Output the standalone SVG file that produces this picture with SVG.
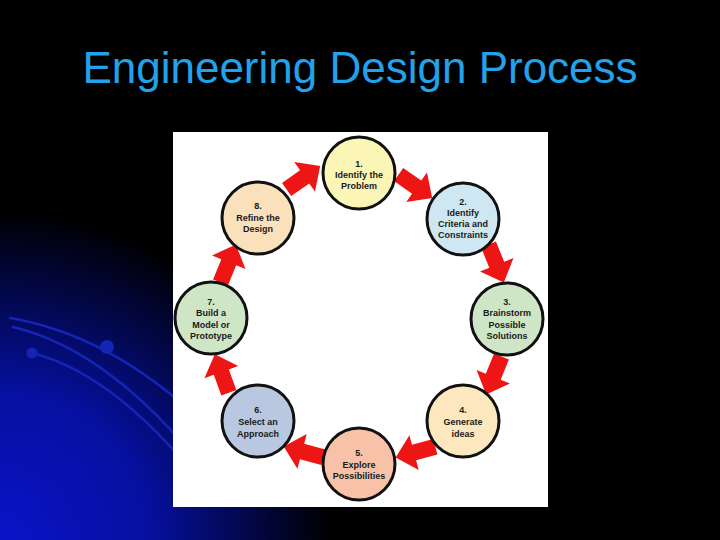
<svg xmlns="http://www.w3.org/2000/svg" width="720" height="540" viewBox="0 0 720 540">
<defs>
<radialGradient id="bg" cx="0" cy="540" r="330" gradientUnits="userSpaceOnUse">
<stop offset="0" stop-color="#0a14c8"/>
<stop offset="0.45" stop-color="#0610a0"/>
<stop offset="1" stop-color="#000000"/>
</radialGradient>
<path id="arr" d="M-20,-8 L2,-8 L2,-18 L21,0 L2,18 L2,8 L-20,8 Z"/>
<style>
.node circle{stroke:#111;stroke-width:3}
.node text{font-family:"Liberation Sans",Arial,sans-serif;font-weight:bold;font-size:9px;fill:#1a1a1a;text-anchor:middle}
.arrow{fill:#ee1515}
.deco{fill:none;stroke:#1424b4;stroke-width:2.5;stroke-linecap:round}
</style>
</defs>
<rect width="720" height="540" fill="#000"/>
<rect width="720" height="540" fill="url(#bg)"/>
<g id="decoration">
<path class="deco" d="M10,318 Q110,335 200,420"/>
<path class="deco" d="M13,327 Q110,350 205,470"/>
<path class="deco" d="M32,353 Q120,375 215,500"/>
<circle cx="107" cy="347" r="7" fill="#1424b4"/>
<circle cx="32" cy="353" r="5.5" fill="#1424b4"/>
</g>
<text x="360" y="83" font-family="'Liberation Sans',Arial,sans-serif" font-size="44" fill="#22a2ea" text-anchor="middle">Engineering Design Process</text>
<rect x="173" y="132" width="375" height="375" fill="#fff"/>
<g id="connectors">
<use href="#arr" class="arrow" transform="translate(303,178) rotate(-35)"/>
<use href="#arr" class="arrow" transform="translate(415,186) rotate(35)"/>
<use href="#arr" class="arrow" transform="translate(496,263) rotate(68)"/>
<use href="#arr" class="arrow" transform="translate(494,375) rotate(112)"/>
<use href="#arr" class="arrow" transform="translate(416,452) rotate(165)"/>
<use href="#arr" class="arrow" transform="translate(304,452) rotate(195)"/>
<use href="#arr" class="arrow" transform="translate(222,374) rotate(250)"/>
<use href="#arr" class="arrow" transform="translate(228,264) rotate(292)"/>
</g>
<g id="n1" class="node"><circle cx="359" cy="173" r="36" fill="#fbf5b6"/>
<text x="359" y="167">1.</text><text x="359" y="178">Identify the</text><text x="359" y="189">Problem</text></g>
<g id="n2" class="node"><circle cx="463" cy="219" r="36" fill="#cfe7f2"/>
<text x="463" y="205">2.</text><text x="463" y="216">Identify</text><text x="463" y="227">Criteria and</text><text x="463" y="238">Constraints</text></g>
<g id="n3" class="node"><circle cx="507" cy="319" r="36" fill="#cfe6c6"/>
<text x="507" y="305">3.</text><text x="507" y="316">Brainstorm</text><text x="507" y="328">Possible</text><text x="507" y="339">Solutions</text></g>
<g id="n4" class="node"><circle cx="463" cy="421" r="36" fill="#fce7bf"/>
<text x="463" y="413">4.</text><text x="463" y="425">Generate</text><text x="463" y="437">ideas</text></g>
<g id="n5" class="node"><circle cx="359" cy="464" r="36" fill="#f8c2a8"/>
<text x="359" y="456">5.</text><text x="359" y="468">Explore</text><text x="359" y="479">Possibilities</text></g>
<g id="n6" class="node"><circle cx="258" cy="421" r="36" fill="#b9c7e0"/>
<text x="258" y="413">6.</text><text x="258" y="425">Select an</text><text x="258" y="437">Approach</text></g>
<g id="n7" class="node"><circle cx="211" cy="318" r="36" fill="#cfe6c6"/>
<text x="211" y="305">7.</text><text x="211" y="316">Build a</text><text x="211" y="328">Model or</text><text x="211" y="339">Prototype</text></g>
<g id="n8" class="node"><circle cx="258" cy="218" r="36" fill="#fae0bb"/>
<text x="258" y="209">8.</text><text x="258" y="221">Refine the</text><text x="258" y="232">Design</text></g>
</svg>
